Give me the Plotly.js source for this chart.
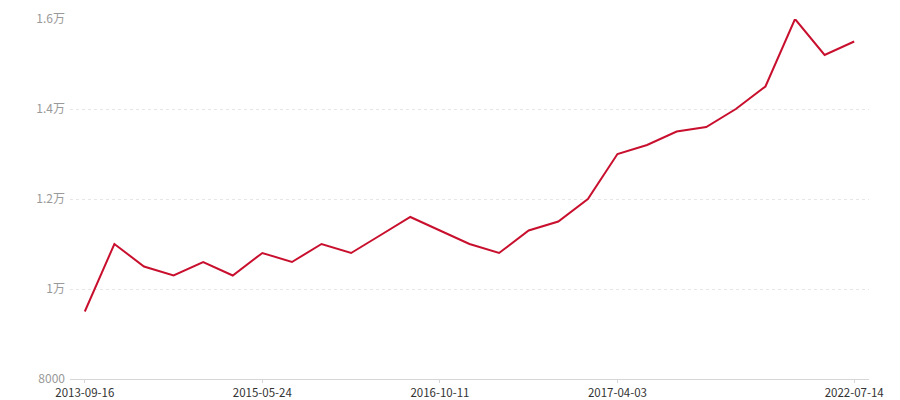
<!DOCTYPE html>
<html>
<head>
<meta charset="utf-8">
<script src="https://cdn.plot.ly/plotly-3.0.1.min.js"></script>
<style>html,body{margin:0;padding:0;background:#fff}#chart{width:900px;height:400px}</style>
</head>
<body>
<div id="chart"></div>
<script>
// values per observation (27 points)
const values = [9500, 11000, 10500, 10300, 10600, 10300, 10800, 10600, 11000, 10800, 11200, 11600, 11300, 11000, 10800, 11300, 11500, 12000, 13000, 13200, 13500, 13600, 14000, 14500, 16000, 15200, 15500];
const pointIndex = values.map((v, i) => i);
// x tick labels (dates) and their positions
const dateTickIndex = [0, 6, 12, 18, 26];
const dateTickLabels = ["2013-09-16", "2015-05-24", "2016-10-11", "2017-04-03", "2022-07-14"];
// y tick labels
const yTickVals = [8000, 10000, 12000, 14000, 16000];
const yTickLabels = ["8000", "1万", "1.2万", "1.4万", "1.6万"];

const font = "'Microsoft YaHei', 'Noto Sans CJK SC', 'Noto Sans', sans-serif";

Plotly.newPlot('chart', [{
  x: pointIndex,
  y: values,
  type: 'scatter',
  mode: 'lines',
  line: {color: '#c8102e', width: 2},
  hoverinfo: 'y'
}], {
  width: 900, height: 400,
  margin: {l: 70, r: 31, t: 19, b: 21},
  paper_bgcolor: '#fff', plot_bgcolor: '#fff',
  showlegend: false,
  font: {family: font, size: 12},
  xaxis: {
    range: [-0.5, 26.5],
    tickvals: dateTickIndex,
    ticktext: dateTickLabels,
    showgrid: false,
    zeroline: false,
    showline: true, linecolor: '#d6d6d6', linewidth: 1,
    ticks: 'outside', ticklen: 3, tickcolor: '#d6d6d6', tickwidth: 1,
    tickfont: {color: '#333', size: 11.5, family: font}
  },
  yaxis: {
    range: [8000, 16000],
    tickvals: yTickVals,
    ticktext: yTickLabels,
    showgrid: true, gridcolor: '#e6e6e6', griddash: '3px,3px', gridwidth: 1,
    zeroline: false, showline: false,
    ticks: '', ticklabelstandoff: 4,
    tickfont: {color: '#999', size: 12, family: font}
  }
}, {displayModeBar: false, staticPlot: true});
</script>
</body>
</html>
